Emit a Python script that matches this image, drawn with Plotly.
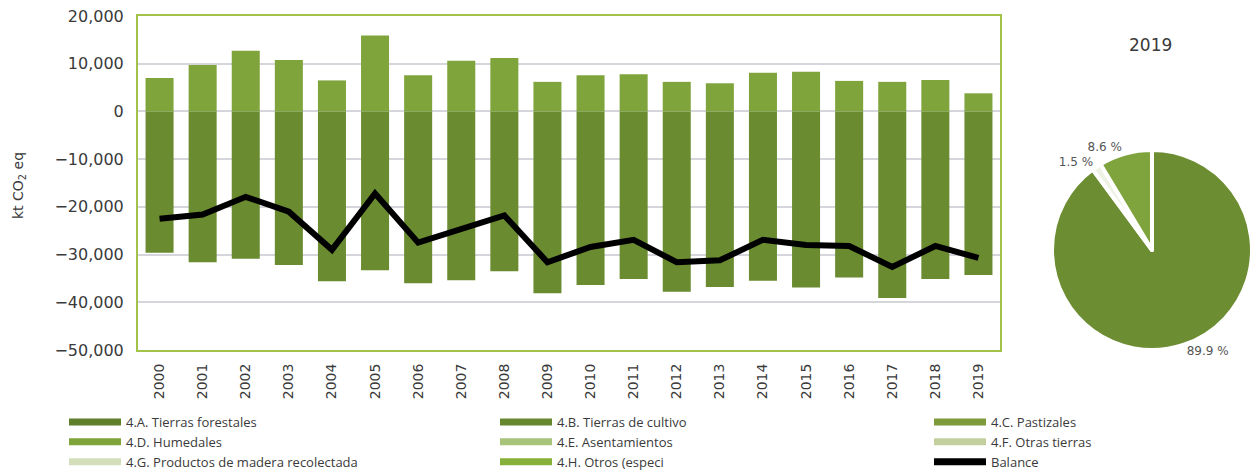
import plotly.graph_objects as go

# Data (kt CO2 eq)
years = [str(y) for y in range(2000, 2020)]
absorciones = [-29600, -31600, -30900, -32200, -35600, -33300, -36000, -35400, -33500, -38100,
               -36400, -35100, -37800, -36800, -35500, -36900, -34800, -39100, -35100, -34300]
emisiones = [7000, 9750, 12700, 10800, 6500, 15900, 7600, 10600, 11200, 6200,
             7600, 7800, 6200, 5900, 8100, 8300, 6400, 6200, 6600, 3800]
balance = [-22500, -21600, -17900, -21000, -29000, -17200, -27500, -24600, -21800, -31600,
           -28400, -26900, -31600, -31200, -26900, -28000, -28200, -32600, -28200, -30700]

pie_labels = ["4.A. Tierras forestales", "4.G. Productos de madera recolectada", "4.C. Pastizales"]
pie_values = [89.9, 1.5, 8.6]

# legend columns as in the reference
legend_cols = [
    [("4.A. Tierras forestales", "#5f7f2a"), ("4.D. Humedales", "#7ea43a"),
     ("4.G. Productos de madera recolectada", "#d3dfba")],
    [("4.B. Tierras de cultivo", "#67872e"), ("4.E. Asentamientos", "#a8c47a"),
     ("4.H. Otros (especi", "#86b03a")],
    [("4.C. Pastizales", "#7f9a3a"), ("4.F. Otras tierras", "#c3d09e"),
     ("Balance", "#000000")],
]

# page body has an 8px margin, so the figure is a bit smaller than the window
W, H, OFF = 1252, 462, 8


def px(x):
    return (x - OFF) / W


def py(y):
    return 1 - (y - OFF) / H


font_main = "DejaVu Sans"
txt = "#3a3a3a"

fig = go.Figure()

fig.add_trace(go.Bar(x=years, y=absorciones, name="4.A. Tierras forestales",
                     marker=dict(color="#6a8b30", line=dict(width=0)), showlegend=False))
fig.add_trace(go.Bar(x=years, y=emisiones, name="4.C. Pastizales",
                     marker=dict(color="#7fa43b", line=dict(width=0)), showlegend=False))
fig.add_trace(go.Scatter(x=years, y=balance, name="Balance", mode="lines",
                         line=dict(color="black", width=6), showlegend=False))

# legend entries drawn as wide swatches, one legend per column
legend_ids = ["legend", "legend2", "legend3"]
for lid, col in zip(legend_ids, legend_cols):
    for name, c in col:
        fig.add_trace(go.Scatter(x=[None], y=[None], mode="lines", name=name,
                                 line=dict(color=c, width=7), showlegend=True, legend=lid))

fig.add_trace(go.Pie(
    labels=pie_labels, values=pie_values, sort=False, direction="clockwise", rotation=0,
    marker=dict(colors=["#6c8d32", "#eef2e4", "#7fa33d"], line=dict(color="white", width=4)),
    text=[f"{v} %" for v in pie_values], textinfo="text", textposition="outside",
    textfont=dict(family=font_main, size=12, color="#555555"),
    domain=dict(x=[px(1052), px(1252)], y=[py(366), py(134)]),
    showlegend=False, hoverinfo="label+text"
))

fig.add_annotation(text="2019", x=px(1150), y=py(45), xref="paper", yref="paper",
                   xanchor="center", yanchor="middle",
                   showarrow=False, font=dict(family=font_main, size=17, color=txt))
fig.add_annotation(text="kt CO<sub>2</sub> eq", x=px(19), y=py(186), xref="paper", yref="paper",
                   xanchor="center", yanchor="middle", textangle=-90, showarrow=False,
                   font=dict(family=font_main, size=14, color=txt))

leg_common = dict(
    orientation="v", y=py(407), xanchor="left", yanchor="top", itemwidth=52,
    font=dict(family="Open Sans", size=13, color=txt),
    tracegroupgap=0, traceorder="normal", bgcolor="rgba(0,0,0,0)",
)

fig.update_layout(
    barmode="relative",
    bargap=0.35,
    width=W, height=H,
    margin=dict(l=0, r=0, t=0, b=0, autoexpand=False),
    paper_bgcolor="white", plot_bgcolor="white",
    font=dict(family=font_main, color=txt),
    xaxis=dict(
        domain=[px(138), px(1000)],
        range=[-0.5, 19.5],
        tickangle=-90,
        tickfont=dict(size=14, color=txt),
        showgrid=False,
        showline=True, mirror=True, linecolor="#a3c24a", linewidth=2,
        ticklabelstandoff=6,
    ),
    yaxis=dict(
        domain=[py(350), py(16)],
        range=[-50000, 20001],
        tickmode="linear", tick0=-50000, dtick=10000,
        tickformat=",",
        tickfont=dict(size=16, color=txt),
        ticklabeloverflow="allow",
        showgrid=True, gridcolor="#d5d6dc", gridwidth=1.5,
        zeroline=True, zerolinecolor="#d5d6dc", zerolinewidth=1.5,
        showline=True, mirror=True, linecolor="#a3c24a", linewidth=2,
        ticklabelstandoff=9,
    ),
    legend=dict(x=px(64), **leg_common),
    legend2=dict(x=px(495), **leg_common),
    legend3=dict(x=px(929), **leg_common),
)

fig.write_html("out.html")
